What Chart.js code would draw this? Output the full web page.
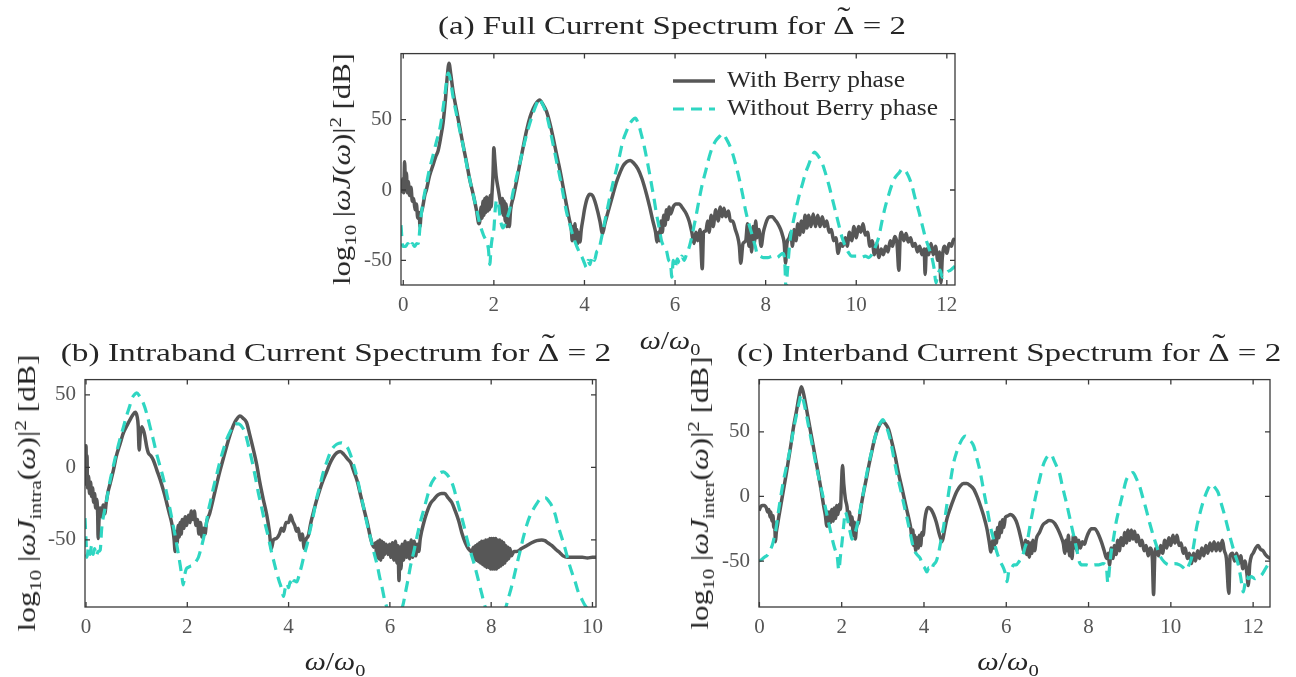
<!DOCTYPE html>
<html><head><meta charset="utf-8">
<script src="https://cdn.jsdelivr.net/npm/chart.js@4.4.1/dist/chart.umd.min.js"></script>
<style>
html,body{margin:0;padding:0;background:#fff;width:1296px;height:677px;overflow:hidden;}
#wrap{position:relative;width:1296px;height:677px;}
canvas{position:absolute;}
.lbl{position:absolute;white-space:nowrap;font-family:'Liberation Serif','Times New Roman',serif;font-size:25px;line-height:26px;color:#262626;transform-origin:50% 50%;z-index:2;}
.lbl i{font-style:italic;}
.lbl sub,.lbl sup{font-size:68%;line-height:0;}
.dt{position:relative;display:inline-block;}
.tl{position:absolute;left:0;width:100%;text-align:center;top:-0.3em;font-size:120%;}
</style></head><body>
<div id="wrap">
<canvas id="ca" width="649" height="298" style="left:331px;top:32px;"></canvas>
<canvas id="cb" width="606" height="294" style="left:15px;top:358px;"></canvas>
<canvas id="cc" width="606" height="294" style="left:689px;top:358px;"></canvas>
<div class="lbl" id="titleA">(a) Full Current Spectrum for <span class="dt">Δ<span class="tl">˜</span></span> = 2</div>
<div class="lbl" id="titleB">(b) Intraband Current Spectrum for <span class="dt">Δ<span class="tl">˜</span></span> = 2</div>
<div class="lbl" id="titleC">(c) Interband Current Spectrum for <span class="dt">Δ<span class="tl">˜</span></span> = 2</div>
<div class="lbl" id="xlabA"><i>ω</i>/<i>ω</i><sub>0</sub></div>
<div class="lbl" id="xlabB"><i>ω</i>/<i>ω</i><sub>0</sub></div>
<div class="lbl" id="xlabC"><i>ω</i>/<i>ω</i><sub>0</sub></div>
<div class="lbl" id="ylabA">log<sub>10</sub> |<i>ωJ</i>(<i>ω</i>)|<sup>2</sup> [dB]</div>
<div class="lbl" id="ylabB">log<sub>10</sub> |<i>ωJ</i><sub>intra</sub>(<i>ω</i>)|<sup>2</sup> [dB]</div>
<div class="lbl" id="ylabC">log<sub>10</sub> |<i>ωJ</i><sub>inter</sub>(<i>ω</i>)|<sup>2</sup> [dB]</div>
</div>
<script>
// ---------- tick labels ----------
const aXTicks = [0, 2, 4, 6, 8, 10, 12];
const bXTicks = [0, 2, 4, 6, 8, 10];
const cXTicks = [0, 2, 4, 6, 8, 10, 12];
const yTicksAll = [-50, 0, 50];
const seriesNames = ['With Berry phase', 'Without Berry phase'];

// ---------- (a) full current spectrum: [omega/omega0, dB] ----------
const aWithBerry = [[-0.05,2],[-0.03,-1],[-0.01,8],[0.01,-2],[0.03,20],[0.05,2],[0.07,12],[0.09,-2],[0.11,6],[0.14,-4],[0.17,2],[0.2,-8],[0.23,-6],[0.26,-14],[0.29,-10],[0.32,-20],[0.35,-16],[0.37,-26],[0.39,-18],[0.43,-12],[0.48,-3],[0.51,0],[0.58,10],[0.66,18],[0.72,24],[0.77,28],[0.83,38],[0.88,48],[0.93,64],[0.97,80],[1.01,90],[1.05,82],[1.1,70],[1.18,56],[1.25,44],[1.32,32],[1.4,19],[1.47,7],[1.55,-4],[1.62,-15],[1.67,-24],[1.69,-22],[1.72,-12],[1.74,-20],[1.76,-8],[1.78,-18],[1.8,-6],[1.82,-16],[1.84,-5],[1.86,-15],[1.88,-6],[1.9,-14],[1.92,-4],[1.94,-12],[1.96,-2],[1.98,10],[2.0,30],[2.02,22],[2.05,10],[2.1,0],[2.14,-8],[2.17,-16],[2.19,-6],[2.21,-18],[2.23,-8],[2.25,-22],[2.27,-10],[2.29,-26],[2.31,-14],[2.34,-26],[2.37,-14],[2.43,-5],[2.5,6],[2.57,18],[2.65,31],[2.72,42],[2.8,52],[2.87,58],[2.94,62],[3.01,64],[3.08,61],[3.16,56],[3.24,47],[3.31,37],[3.38,26],[3.46,14],[3.53,2],[3.6,-10],[3.66,-20],[3.71,-28],[3.73,-36],[3.75,-26],[3.77,-34],[3.79,-24],[3.81,-36],[3.83,-28],[3.85,-38],[3.87,-30],[3.9,-37],[3.93,-28],[3.97,-20],[4.0,-14],[4.06,-6],[4.12,-3],[4.18,-4],[4.23,-8],[4.29,-15],[4.34,-22],[4.4,-31],[4.45,-24],[4.5,-18],[4.56,-11],[4.63,-3],[4.7,5],[4.78,12],[4.85,17],[4.93,20],[5.01,21],[5.09,19],[5.18,15],[5.27,8],[5.37,-3],[5.44,-12],[5.51,-22],[5.57,-30],[5.6,-37],[5.63,-30],[5.66,-36],[5.69,-22],[5.72,-30],[5.75,-18],[5.78,-25],[5.81,-14],[5.84,-21],[5.87,-12],[5.9,-17],[5.96,-12],[6.02,-10],[6.09,-10],[6.17,-13],[6.25,-17],[6.31,-22],[6.37,-30],[6.42,-38],[6.46,-30],[6.5,-36],[6.55,-28],[6.6,-56],[6.63,-30],[6.68,-29],[6.72,-22],[6.75,-30],[6.8,-18],[6.84,-26],[6.9,-14],[6.95,-22],[7.0,-12],[7.04,-19],[7.08,-13],[7.12,-19],[7.18,-15],[7.22,-22],[7.27,-22],[7.33,-28],[7.38,-33],[7.42,-40],[7.45,-52],[7.5,-38],[7.56,-36],[7.6,-24],[7.63,-40],[7.66,-28],[7.69,-44],[7.72,-26],[7.75,-38],[7.78,-22],[7.81,-34],[7.85,-28],[7.9,-40],[7.95,-30],[8.0,-24],[8.05,-20],[8.1,-19],[8.15,-19],[8.2,-21],[8.27,-24],[8.33,-28],[8.37,-32],[8.41,-38],[8.44,-52],[8.47,-38],[8.52,-34],[8.56,-30],[8.59,-40],[8.63,-28],[8.67,-36],[8.71,-24],[8.75,-32],[8.79,-22],[8.83,-30],[8.87,-18],[8.91,-27],[8.95,-18],[9.0,-26],[9.05,-17],[9.1,-26],[9.15,-18],[9.2,-26],[9.25,-19],[9.3,-26],[9.35,-22],[9.4,-30],[9.45,-28],[9.5,-36],[9.55,-34],[9.6,-45],[9.65,-38],[9.7,-40],[9.76,-34],[9.8,-40],[9.85,-30],[9.9,-36],[9.95,-26],[10.0,-34],[10.05,-26],[10.1,-30],[10.15,-24],[10.2,-32],[10.25,-30],[10.3,-40],[10.35,-36],[10.4,-46],[10.45,-38],[10.5,-48],[10.55,-42],[10.6,-46],[10.65,-40],[10.7,-44],[10.75,-36],[10.8,-40],[10.85,-33],[10.9,-38],[10.94,-57],[10.97,-34],[11.0,-30],[11.05,-36],[11.1,-31],[11.15,-37],[11.2,-34],[11.25,-40],[11.3,-38],[11.35,-44],[11.4,-40],[11.45,-46],[11.5,-42],[11.52,-60],[11.55,-42],[11.6,-46],[11.65,-38],[11.7,-46],[11.75,-40],[11.8,-50],[11.84,-44],[11.87,-66],[11.9,-48],[11.95,-40],[12.0,-45],[12.05,-38],[12.1,-40],[12.15,-35],[12.18,-36]];
const aWithoutBerry = [[-0.05,-25],[-0.01,-40],[0.05,-40],[0.1,-38],[0.15,-41],[0.2,-38],[0.25,-40],[0.3,-38],[0.33,-38],[0.38,-22],[0.44,-8],[0.51,4],[0.58,15],[0.66,25],[0.73,34],[0.81,44],[0.87,56],[0.92,68],[0.96,78],[0.99,83],[1.03,80],[1.1,66],[1.18,53],[1.25,42],[1.33,30],[1.4,18],[1.47,7],[1.54,-3],[1.62,-14],[1.69,-24],[1.77,-32],[1.84,-37],[1.88,-42],[1.91,-53],[1.94,-40],[1.97,-33],[2.0,-28],[2.03,-14],[2.06,-7],[2.1,-10],[2.15,-22],[2.2,-27],[2.27,-22],[2.35,-14],[2.42,-2],[2.5,9],[2.58,20],[2.65,30],[2.72,39],[2.79,47],[2.87,55],[2.94,61],[3.0,65],[3.06,62],[3.16,54],[3.24,43],[3.31,32],[3.38,21],[3.46,9],[3.53,-3],[3.6,-15],[3.68,-25],[3.75,-33],[3.83,-40],[3.9,-45],[3.95,-48],[4.0,-52],[4.04,-55],[4.08,-50],[4.12,-53],[4.17,-47],[4.22,-50],[4.27,-44],[4.32,-42],[4.37,-35],[4.42,-27],[4.49,-16],[4.56,-5],[4.63,5],[4.7,14],[4.78,25],[4.85,35],[4.93,42],[5.0,47],[5.07,50],[5.12,51],[5.19,47],[5.26,39],[5.32,31],[5.37,23],[5.43,13],[5.48,4],[5.54,-7],[5.59,-17],[5.65,-27],[5.7,-36],[5.75,-40],[5.81,-43],[5.86,-50],[5.9,-52],[5.93,-62],[5.96,-50],[6.0,-55],[6.05,-49],[6.1,-52],[6.15,-47],[6.2,-50],[6.25,-46],[6.3,-42],[6.35,-36],[6.41,-27],[6.46,-19],[6.53,-7],[6.6,4],[6.68,14],[6.75,23],[6.82,30],[6.9,35],[6.98,38],[7.06,40],[7.12,37],[7.2,32],[7.27,26],[7.34,18],[7.41,9],[7.49,-3],[7.56,-15],[7.63,-24],[7.71,-33],[7.77,-40],[7.82,-46],[7.88,-47],[7.95,-48],[8.05,-48],[8.15,-47],[8.25,-48],[8.33,-46],[8.38,-45],[8.42,-50],[8.45,-70],[8.48,-58],[8.52,-42],[8.55,-33],[8.6,-24],[8.66,-15],[8.73,-5],[8.81,4],[8.88,12],[8.95,18],[9.02,24],[9.08,27],[9.14,25],[9.2,22],[9.26,18],[9.32,12],[9.4,3],[9.47,-6],[9.54,-15],[9.61,-24],[9.68,-33],[9.76,-40],[9.82,-44],[9.9,-47],[10.0,-47],[10.1,-48],[10.2,-47],[10.28,-48],[10.34,-46],[10.39,-43],[10.45,-38],[10.5,-33],[10.57,-22],[10.64,-12],[10.72,-3],[10.79,4],[10.86,9],[10.94,12],[11.02,15],[11.08,14],[11.15,10],[11.23,3],[11.3,-6],[11.38,-15],[11.45,-24],[11.52,-33],[11.6,-41],[11.67,-48],[11.72,-56],[11.76,-66],[11.8,-60],[11.85,-57],[11.9,-62],[11.96,-60],[12.02,-58],[12.08,-57],[12.15,-55],[12.18,-54]];

// ---------- (b) intraband spectrum ----------
const bWithBerry = [[-0.02,-10],[0.0,15],[0.01,-12],[0.02,8],[0.03,-14],[0.05,-6],[0.07,-18],[0.09,-10],[0.11,-20],[0.13,-14],[0.15,-24],[0.17,-18],[0.19,-28],[0.21,-22],[0.23,-32],[0.24,-49],[0.26,-34],[0.28,-28],[0.31,-34],[0.34,-26],[0.37,-32],[0.4,-24],[0.44,-16],[0.47,-12],[0.54,-2],[0.6,8],[0.67,16],[0.74,24],[0.81,29],[0.87,33],[0.92,36],[0.97,38],[1.01,35],[1.03,29],[1.05,12],[1.07,22],[1.1,28],[1.14,25],[1.16,22],[1.2,14],[1.23,10],[1.28,8],[1.33,5],[1.4,-2],[1.46,-8],[1.53,-16],[1.59,-24],[1.64,-31],[1.69,-38],[1.72,-44],[1.74,-50],[1.76,-58],[1.78,-44],[1.8,-52],[1.82,-40],[1.84,-48],[1.86,-38],[1.88,-46],[1.9,-36],[1.93,-42],[1.96,-34],[1.99,-40],[2.02,-33],[2.05,-38],[2.08,-30],[2.11,-36],[2.14,-30],[2.17,-40],[2.2,-36],[2.23,-46],[2.26,-38],[2.29,-48],[2.32,-42],[2.35,-46],[2.38,-38],[2.44,-32],[2.51,-22],[2.57,-13],[2.64,-3],[2.71,6],[2.78,15],[2.84,22],[2.91,29],[2.97,33],[3.04,35.5],[3.1,34],[3.17,31],[3.23,23],[3.3,13],[3.37,2],[3.43,-10],[3.5,-22],[3.57,-33],[3.62,-44],[3.66,-56],[3.7,-50],[3.76,-49],[3.82,-46],[3.86,-42],[3.9,-44],[3.95,-38],[4.0,-38],[4.04,-33],[4.08,-37],[4.12,-40],[4.16,-44],[4.19,-42],[4.23,-50],[4.27,-46],[4.31,-56],[4.34,-50],[4.39,-47],[4.44,-38],[4.49,-31],[4.55,-23],[4.62,-15],[4.68,-9],[4.75,-3],[4.82,3],[4.88,7],[4.95,10],[5.02,11],[5.09,9],[5.16,6],[5.23,3],[5.29,-3],[5.36,-10],[5.42,-19],[5.49,-29],[5.56,-39],[5.62,-49],[5.68,-55],[5.72,-52],[5.74,-62],[5.76,-51],[5.78,-63],[5.8,-50],[5.82,-64],[5.84,-51],[5.86,-62],[5.88,-52],[5.9,-60],[5.93,-53],[5.96,-60],[5.99,-53],[6.02,-62],[6.05,-52],[6.08,-64],[6.11,-51],[6.14,-66],[6.16,-54],[6.18,-78],[6.2,-55],[6.22,-70],[6.24,-53],[6.27,-64],[6.3,-51],[6.33,-62],[6.36,-52],[6.39,-63],[6.42,-50],[6.45,-62],[6.48,-51],[6.51,-61],[6.54,-53],[6.57,-58],[6.6,-49],[6.67,-38],[6.73,-31],[6.8,-25],[6.87,-22],[6.95,-19],[7.02,-18],[7.08,-18],[7.15,-21],[7.22,-24],[7.29,-30],[7.36,-37],[7.42,-45],[7.49,-52],[7.55,-56],[7.62,-58],[7.65,-55],[7.67,-63],[7.69,-54],[7.71,-64],[7.73,-53],[7.75,-65],[7.77,-52],[7.79,-66],[7.81,-51],[7.83,-67],[7.85,-51],[7.87,-68],[7.89,-50],[7.91,-69],[7.93,-50],[7.95,-69],[7.97,-49],[7.99,-70],[8.01,-49],[8.03,-70],[8.05,-49],[8.07,-70],[8.09,-49],[8.11,-70],[8.13,-50],[8.15,-69],[8.17,-50],[8.19,-68],[8.21,-51],[8.23,-67],[8.25,-52],[8.27,-66],[8.29,-54],[8.31,-64],[8.33,-55],[8.35,-63],[8.37,-56],[8.4,-61],[8.45,-58],[8.5,-58],[8.6,-56],[8.7,-54],[8.8,-52],[8.9,-50.5],[9.0,-50],[9.06,-50.5],[9.12,-52],[9.2,-54],[9.29,-57],[9.36,-59],[9.42,-61],[9.5,-62],[9.6,-62],[9.7,-62],[9.8,-62],[9.9,-62.5],[10.0,-62],[10.07,-62]];
const bWithoutBerry = [[-0.02,-35],[0.0,-50],[0.02,-62],[0.05,-55],[0.08,-60],[0.11,-54],[0.14,-60],[0.17,-56],[0.2,-61],[0.24,-58],[0.28,-57],[0.31,-42],[0.36,-31],[0.41,-22],[0.47,-10],[0.54,1],[0.6,10],[0.67,19.5],[0.74,28],[0.8,35.5],[0.86,42],[0.9,47],[0.95,50],[1.0,51.5],[1.06,49],[1.13,44.6],[1.2,37],[1.26,28.6],[1.33,19],[1.39,10],[1.46,1],[1.53,-8],[1.6,-19],[1.66,-29],[1.71,-38],[1.76,-47],[1.81,-57],[1.86,-67.5],[1.9,-77],[1.92,-81],[1.95,-74],[1.98,-70],[2.02,-69],[2.07,-68],[2.12,-67.5],[2.17,-65],[2.22,-62],[2.27,-56],[2.32,-49],[2.37,-40],[2.41,-31],[2.46,-23],[2.51,-15],[2.58,-5],[2.64,3.4],[2.71,12],[2.78,19.5],[2.85,25],[2.91,28.6],[2.96,30],[3.01,30],[3.08,28],[3.14,24],[3.2,16],[3.27,5.7],[3.34,-6],[3.4,-17],[3.47,-28],[3.53,-38],[3.6,-48],[3.66,-58],[3.71,-65],[3.76,-72],[3.81,-78],[3.86,-83.5],[3.9,-89],[3.93,-84],[3.97,-80],[4.0,-83],[4.03,-79],[4.07,-82],[4.11,-78],[4.16,-79],[4.21,-74],[4.26,-67.5],[4.31,-60],[4.36,-54],[4.42,-44],[4.49,-33],[4.55,-22],[4.62,-12.6],[4.68,-4],[4.75,3.4],[4.82,10],[4.88,13.7],[4.95,16],[5.04,17],[5.1,16],[5.18,12.6],[5.23,8],[5.3,0],[5.36,-8],[5.42,-18],[5.49,-29],[5.55,-39],[5.62,-49],[5.68,-58],[5.75,-67.5],[5.8,-76],[5.85,-83.5],[5.9,-92],[5.95,-97],[6.0,-98],[6.1,-98],[6.2,-98],[6.25,-96],[6.31,-86],[6.36,-77],[6.41,-67.5],[6.48,-57],[6.54,-47],[6.6,-38],[6.67,-29],[6.74,-20],[6.8,-12.6],[6.87,-8],[6.93,-5.7],[7.0,-3.5],[7.06,-3],[7.13,-5],[7.19,-8],[7.26,-14],[7.32,-22],[7.39,-31],[7.46,-40],[7.52,-49],[7.59,-58],[7.66,-66],[7.72,-74],[7.77,-81],[7.82,-88],[7.87,-95],[7.92,-98],[8.0,-98],[8.1,-98],[8.2,-98],[8.28,-97],[8.34,-90],[8.39,-84],[8.44,-77],[8.5,-68],[8.57,-58],[8.63,-49],[8.7,-40],[8.76,-34],[8.83,-29],[8.9,-25],[8.96,-22],[9.02,-21],[9.08,-21],[9.13,-23],[9.19,-26],[9.26,-32],[9.32,-40],[9.39,-48],[9.46,-56],[9.52,-64],[9.59,-72],[9.66,-79],[9.72,-86],[9.79,-91],[9.85,-95],[9.92,-98],[10.07,-100]];

// ---------- (c) interband spectrum ----------
const cWithBerry = [[-0.01,-11],[0.03,-8],[0.07,-7],[0.12,-7],[0.17,-9],[0.2,-12],[0.23,-10],[0.26,-16],[0.28,-12],[0.3,-19],[0.33,-15],[0.35,-24],[0.37,-20],[0.39,-35],[0.41,-28],[0.44,-22],[0.47,-16],[0.53,-5],[0.59,6],[0.65,17],[0.71,29],[0.77,41],[0.83,54],[0.9,66],[0.96,77],[1.02,85],[1.07,80],[1.12,72],[1.2,58],[1.28,44],[1.36,30],[1.44,16],[1.5,5],[1.56,-7],[1.6,-14],[1.64,-23],[1.66,-12],[1.68,-22],[1.7,-12],[1.73,-20],[1.76,-10],[1.79,-19],[1.82,-9],[1.85,-17],[1.88,-7],[1.91,-14],[1.94,-6],[1.97,-10],[1.99,5],[2.02,24],[2.05,10],[2.09,-2],[2.13,-8],[2.16,-18],[2.19,-12],[2.22,-22],[2.25,-16],[2.28,-30],[2.31,-20],[2.33,-33],[2.36,-24],[2.41,-20],[2.47,-8],[2.53,3],[2.6,14],[2.66,24],[2.72,33],[2.78,42],[2.84,49],[2.9,54],[2.95,57],[3.0,58],[3.07,56],[3.14,52],[3.22,42],[3.3,31],[3.38,18],[3.47,5.6],[3.55,-6],[3.63,-17],[3.68,-25],[3.71,-33],[3.73,-26],[3.75,-38],[3.77,-30],[3.8,-42],[3.83,-32],[3.86,-40],[3.89,-30],[3.92,-38],[3.95,-28],[3.98,-30],[4.02,-18],[4.06,-11],[4.11,-8.5],[4.17,-10],[4.23,-13.6],[4.3,-20],[4.36,-27.7],[4.4,-32],[4.44,-35],[4.5,-26],[4.56,-17],[4.64,-9],[4.72,-2],[4.8,4],[4.88,8],[4.96,10],[5.04,10],[5.12,8.5],[5.21,5.6],[5.29,0],[5.37,-7],[5.45,-15],[5.53,-25],[5.58,-34],[5.63,-43],[5.67,-34],[5.7,-40],[5.73,-28],[5.76,-36],[5.79,-24],[5.82,-32],[5.85,-20],[5.88,-28],[5.91,-18],[5.94,-24],[5.98,-16],[6.04,-15],[6.1,-14],[6.16,-15],[6.24,-19],[6.3,-25],[6.36,-33],[6.44,-43],[6.47,-34],[6.5,-45],[6.53,-35],[6.56,-47],[6.59,-36],[6.62,-44],[6.65,-34],[6.69,-42],[6.73,-33],[6.81,-27.7],[6.89,-22],[6.97,-20],[7.04,-18.7],[7.11,-19],[7.18,-21],[7.25,-25],[7.33,-31],[7.39,-37],[7.42,-44],[7.45,-34],[7.48,-42],[7.51,-30],[7.54,-46],[7.57,-36],[7.6,-48],[7.63,-30],[7.66,-40],[7.69,-32],[7.72,-42],[7.76,-34],[7.8,-40],[7.85,-35],[7.9,-37],[7.94,-33],[8.0,-28],[8.07,-25],[8.15,-25],[8.22,-28],[8.31,-35],[8.38,-42],[8.44,-48],[8.48,-44],[8.51,-53],[8.55,-40],[8.59,-48],[8.63,-38],[8.67,-45],[8.71,-34],[8.75,-42],[8.79,-32],[8.84,-38],[8.88,-28],[8.92,-36],[8.96,-26],[9.0,-34],[9.04,-26],[9.08,-33],[9.12,-27],[9.16,-35],[9.2,-30],[9.25,-38],[9.3,-34],[9.35,-42],[9.4,-38],[9.45,-46],[9.5,-40],[9.55,-48],[9.58,-76],[9.61,-46],[9.65,-40],[9.7,-46],[9.75,-38],[9.8,-44],[9.85,-34],[9.9,-40],[9.95,-32],[10.0,-38],[10.05,-30],[10.1,-36],[10.15,-30],[10.2,-38],[10.25,-36],[10.3,-44],[10.35,-40],[10.4,-48],[10.45,-44],[10.5,-52],[10.55,-44],[10.6,-50],[10.65,-42],[10.7,-48],[10.75,-40],[10.8,-46],[10.85,-38],[10.9,-44],[10.95,-36],[11.0,-42],[11.05,-35],[11.1,-42],[11.15,-36],[11.2,-42],[11.25,-34],[11.3,-42],[11.35,-48],[11.41,-75],[11.44,-46],[11.5,-44],[11.55,-50],[11.6,-44],[11.65,-52],[11.7,-46],[11.75,-56],[11.8,-50],[11.85,-60],[11.88,-69],[11.92,-52],[11.96,-46],[12.0,-44],[12.06,-40],[12.12,-38],[12.18,-41],[12.24,-42],[12.3,-45],[12.36,-47],[12.42,-48]];
const cWithoutBerry = [[-0.01,-50],[0.05,-49],[0.12,-47],[0.19,-45.6],[0.25,-42],[0.31,-38],[0.35,-33],[0.39,-27.7],[0.43,-19],[0.47,-10],[0.53,2],[0.59,13],[0.65,22],[0.71,31],[0.77,41],[0.83,52],[0.9,63],[0.96,72],[1.02,79],[1.07,74],[1.12,67],[1.18,57],[1.24,47],[1.32,34],[1.4,21],[1.48,9],[1.56,-2],[1.62,-11],[1.68,-20],[1.75,-30],[1.81,-38],[1.86,-43],[1.89,-46],[1.93,-57],[1.97,-46],[2.01,-35],[2.05,-22],[2.09,-12],[2.13,-16],[2.17,-22.6],[2.21,-28],[2.25,-33],[2.29,-31],[2.33,-27.7],[2.39,-20],[2.45,-10],[2.51,0],[2.57,10.8],[2.63,21],[2.7,31],[2.76,39],[2.82,47],[2.88,53],[2.94,57],[3.0,59.5],[3.07,55],[3.14,49],[3.2,41],[3.26,31],[3.34,18],[3.43,5.6],[3.51,-6],[3.59,-17],[3.67,-29],[3.75,-40.5],[3.83,-45],[3.91,-48],[3.96,-53],[4.01,-55],[4.07,-58.5],[4.12,-55],[4.17,-57],[4.23,-53],[4.3,-50],[4.36,-43],[4.42,-33],[4.48,-22.6],[4.54,-10],[4.6,3],[4.66,15],[4.72,26],[4.8,35],[4.88,41.5],[4.94,45],[5.0,46.7],[5.1,44],[5.21,39],[5.29,29],[5.37,18.5],[5.43,8],[5.49,-2],[5.55,-12],[5.61,-22.6],[5.69,-33],[5.77,-43],[5.85,-50],[5.94,-56],[5.98,-60],[6.02,-66],[6.06,-58],[6.12,-56],[6.18,-53],[6.24,-53],[6.32,-50],[6.4,-45.6],[6.46,-39],[6.52,-33],[6.58,-22],[6.64,-12],[6.7,-2],[6.77,8],[6.83,16],[6.89,23.6],[6.96,29],[7.03,32],[7.09,32.6],[7.16,28],[7.23,23],[7.29,18.5],[7.37,7],[7.46,-4.6],[7.54,-16],[7.62,-27.7],[7.7,-39],[7.78,-51],[7.85,-53],[7.95,-53],[8.05,-54],[8.15,-53],[8.25,-53],[8.35,-52],[8.43,-54],[8.47,-67],[8.51,-55],[8.55,-43],[8.61,-32],[8.67,-20],[8.74,-10],[8.8,-2],[8.86,6],[8.92,13],[9.0,17],[9.08,18.5],[9.16,14],[9.24,8],[9.32,-1],[9.4,-10],[9.48,-20],[9.57,-30],[9.65,-38],[9.73,-45.6],[9.85,-51],[9.97,-53],[10.09,-52],[10.21,-53],[10.3,-55],[10.38,-57],[10.44,-53],[10.5,-48],[10.56,-37],[10.62,-25],[10.7,-14],[10.78,-4.6],[10.84,1],[10.9,5.6],[10.99,9.5],[11.07,7],[11.15,3],[11.23,-6],[11.31,-15],[11.39,-25],[11.47,-35],[11.55,-44],[11.64,-53],[11.7,-63],[11.76,-74],[11.8,-68],[11.84,-62],[11.88,-63.6],[11.95,-62],[12.04,-63.6],[12.12,-62],[12.2,-61],[12.28,-57],[12.36,-53],[12.42,-51]];

// ---------- styling ----------
const DARK = '#575757';
const CYAN = '#2fd6c2';
const TICK_FONT = { family: "'Liberation Serif','Times New Roman',serif", size: 21 };
const TICK_COLOR = '#555555';

const boxPlugin = {
  id: 'matlabBox',
  afterDatasetsDraw(chart, args, opts) {
    const { ctx, chartArea: a, scales: { x, y } } = chart;
    ctx.save();
    ctx.strokeStyle = '#3a3a3a';
    ctx.lineWidth = 1.3;
    ctx.setLineDash([]);
    ctx.strokeRect(a.left, a.top, a.right - a.left, a.bottom - a.top);
    const tl = 5;
    ctx.beginPath();
    x.ticks.forEach(t => {
      const px = x.getPixelForValue(t.value);
      ctx.moveTo(px, a.bottom); ctx.lineTo(px, a.bottom - tl);
      ctx.moveTo(px, a.top); ctx.lineTo(px, a.top + tl);
    });
    y.ticks.forEach(t => {
      const py = y.getPixelForValue(t.value);
      ctx.moveTo(a.left, py); ctx.lineTo(a.left + tl, py);
      ctx.moveTo(a.right, py); ctx.lineTo(a.right - tl, py);
    });
    ctx.stroke();
    const lg = opts && opts.legend;
    if (lg) {
      const ordered = chart.data.datasets.slice().sort((p, q) => p.legendIndex - q.legendIndex);
      ordered.forEach((ds, i) => {
        const yy = lg.y[i] - chart.canvas.offsetTop;
        const x0 = lg.x0 - chart.canvas.offsetLeft, x1 = lg.x1 - chart.canvas.offsetLeft;
        ctx.beginPath();
        ctx.strokeStyle = ds.borderColor;
        ctx.lineWidth = ds.borderWidth;
        ctx.setLineDash(ds.borderDash || []);
        ctx.moveTo(x0, yy); ctx.lineTo(x1, yy);
        ctx.stroke();
        ctx.setLineDash([]);
        ctx.font = "24px 'Liberation Serif','Times New Roman',serif";
        ctx.fillStyle = '#2a2a2a';
        ctx.textBaseline = 'middle';
        const tx = lg.tx - chart.canvas.offsetLeft;
        const w = ctx.measureText(ds.label).width;
        const k = lg.tw[i] / w;
        ctx.save();
        ctx.translate(tx, yy);
        ctx.scale(k, 1);
        ctx.fillText(ds.label, 0, 0);
        ctx.restore();
      });
    }
    ctx.restore();
  }
};

function makeChart(id, withData, withoutData, xr, yr, xTicks, yTicks, legend) {
  const datasets = [
    { label: seriesNames[0], legendIndex: 0, data: withData.map(p => ({ x: p[0], y: p[1] })),
      borderColor: DARK, borderWidth: 3.5, order: 1 },
    { label: seriesNames[1], legendIndex: 1, data: withoutData.map(p => ({ x: p[0], y: p[1] })),
      borderColor: CYAN, borderWidth: 3.2, borderDash: [11, 7], order: 0 }
  ];
  datasets.forEach(d => { d.pointRadius = 0; d.fill = false; d.cubicInterpolationMode = 'monotone'; d.clip = 0; });
  return new Chart(document.getElementById(id), {
    type: 'line',
    data: { datasets },
    plugins: [boxPlugin],
    options: {
      responsive: false, animation: false, events: [],
      layout: { padding: { top: 20, right: 25, left: 0, bottom: 0 } },
      plugins: { legend: { display: false }, tooltip: { enabled: false }, matlabBox: { legend } },
      scales: {
        x: {
          type: 'linear', min: xr[0], max: xr[1],
          afterBuildTicks: s => { s.ticks = xTicks.map(v => ({ value: v })); },
          afterFit: s => { s.height = 45; },
          grid: { display: false, drawTicks: false }, border: { display: false },
          ticks: { font: TICK_FONT, color: TICK_COLOR, padding: 8, maxRotation: 0, autoSkip: false, callback: v => String(v) }
        },
        y: {
          type: 'linear', min: yr[0], max: yr[1],
          afterBuildTicks: s => { s.ticks = yTicks.map(v => ({ value: v })); },
          afterFit: s => { s.width = 70; },
          grid: { display: false, drawTicks: false }, border: { display: false },
          ticks: { font: TICK_FONT, color: TICK_COLOR, padding: 9, autoSkip: false, callback: v => String(v) }
        }
      }
    }
  });
}

makeChart('ca', aWithBerry, aWithoutBerry, [-0.05, 12.18], [-67.5, 96.9], aXTicks, yTicksAll,
  { x0: 673, x1: 715, tx: 727, y: [81, 109], tw: [178, 211] });
makeChart('cb', bWithBerry, bWithoutBerry, [-0.02, 10.07], [-96.3, 60.6], bXTicks, yTicksAll, null);
makeChart('cc', cWithBerry, cWithoutBerry, [-0.01, 12.41], [-85.6, 90.5], cXTicks, yTicksAll, null);

function place(id, cx, cy, w, rot) {
  const el = document.getElementById(id);
  const k = w / el.offsetWidth;
  el.style.left = cx + 'px';
  el.style.top = cy + 'px';
  el.style.transform = 'translate(-50%,-50%)' + (rot ? ' rotate(-90deg)' : '') + ' scaleX(' + k + ')';
}
place('titleA', 672, 26, 468, false);
place('titleB', 336, 353, 551, false);
place('titleC', 1009, 353, 544, false);
place('xlabA', 670, 341, 61, false);
place('xlabB', 335, 662, 61, false);
place('xlabC', 1008, 662, 62, false);
place('ylabA', 342, 169, 232, true);
place('ylabB', 27, 493, 277, true);
place('ylabC', 700, 493, 273, true);
</script>
</body></html>
